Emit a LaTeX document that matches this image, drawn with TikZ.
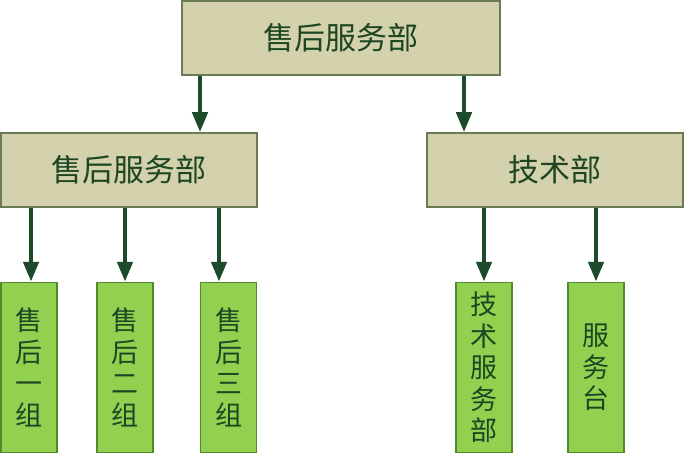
\documentclass[tikz,border=0pt]{standalone}
\usepackage{fontspec}
\setmainfont{Noto Sans CJK SC}
\usetikzlibrary{arrows.meta}
\definecolor{deptfill}{HTML}{D3D2AC}
\definecolor{deptline}{HTML}{687B55}
\definecolor{groupfill}{HTML}{92D050}
\definecolor{groupline}{HTML}{4F8A2B}
\definecolor{arrowgreen}{HTML}{1C4B2A}
\definecolor{textgreen}{HTML}{1E4622}

\begin{document}
\begin{tikzpicture}[x=1pt, y=-1pt,
    dept/.style={draw=deptline, fill=deptfill, line width=1.5pt, inner sep=0pt,
        minimum height=74pt, text=textgreen, font=\fontsize{31}{36}\selectfont},
    group/.style={draw=groupline, fill=groupfill, line width=1.5pt, inner sep=0pt,
        minimum width=56pt, minimum height=170pt, align=center, text=textgreen,
        font=\fontsize{27}{31.5}\selectfont},
    arr/.style={draw=arrowgreen, line width=4.5pt, -{Triangle[width=15pt, length=20pt]}}]
    \useasboundingbox (0,0) rectangle (684,454);
    % Departments
    \node[dept, minimum width=318pt] (top) at (341,38) {售后服务部};
    \node[dept, minimum width=256pt] (sales) at (129,170) {售后服务部};
    \node[dept, minimum width=256pt] (tech) at (555,170) {技术部};
    % Groups
    \node[group] (g1) at (29,367.5) {售\\后\\一\\组};
    \node[group] (g2) at (125,367.5) {售\\后\\二\\组};
    \node[group] (g3) at (228.5,367.5) {售\\后\\三\\组};
    \node[group] (g4) at (484,367.5) {技\\术\\服\\务\\部};
    \node[group] (g5) at (596,367.5) {服\\务\\台};
    % Arrows
    \draw[arr] (top.south -| 200,0) -- (sales.north -| 200,0);
    \draw[arr] (top.south -| 464,0) -- (tech.north -| 464,0);
    \draw[arr] (sales.south -| 31,0) -- (g1.north -| 31,0);
    \draw[arr] (sales.south -| g2.north) -- (g2.north);
    \draw[arr] (sales.south -| 219,0) -- (g3.north -| 219,0);
    \draw[arr] (tech.south -| g4.north) -- (g4.north);
    \draw[arr] (tech.south -| g5.north) -- (g5.north);
\end{tikzpicture}
\end{document}
